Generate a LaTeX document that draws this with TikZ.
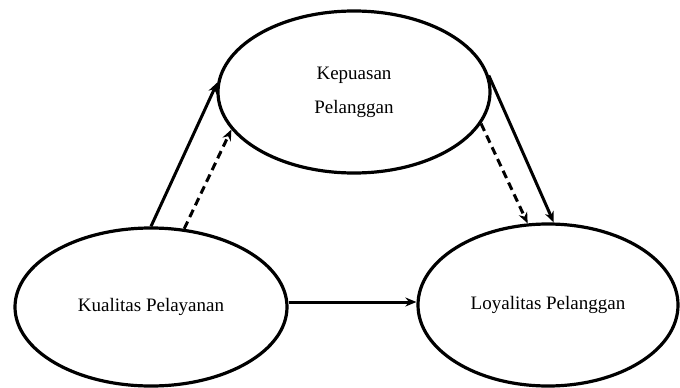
\documentclass[tikz,border=0pt]{standalone}
\usepackage{fontspec}
\setmainfont{Liberation Serif}
\usetikzlibrary{shapes.geometric,arrows.meta}
\begin{document}
\begin{tikzpicture}[x=1pt,y=-1pt,
  oval/.style={draw,ellipse,line width=3.2pt,inner sep=0pt,font=\fontsize{19}{23}\selectfont,align=center},
  conn/.style={line width=3pt,-{Stealth[length=11pt,width=9pt]}},
  dconn/.style={conn,dash pattern=on 8pt off 5pt}]
\useasboundingbox (0,0) rectangle (680,388);
\node[oval,minimum width=272pt,minimum height=162pt] (kp) at (354,92) {Kepuasan\\[11pt]Pelanggan};
\node[oval,minimum width=272pt,minimum height=158pt] (kq) at (151,307) {Kualitas Pelayanan};
\node[oval,minimum width=260pt,minimum height=162pt] (ly) at (548,305) {Loyalitas Pelanggan};
\draw[conn] (kq.90) -- (kp.176);
\draw[dconn] (kq.67) -- (kp.197);
\draw[conn] (kp.7) -- (ly.86);
\draw[dconn] (kp.346) -- (ly.104);
\draw[conn] ([yshift=5pt]kq.east) -- ([yshift=5pt]kq.east -| ly.west);
\end{tikzpicture}
\end{document}
